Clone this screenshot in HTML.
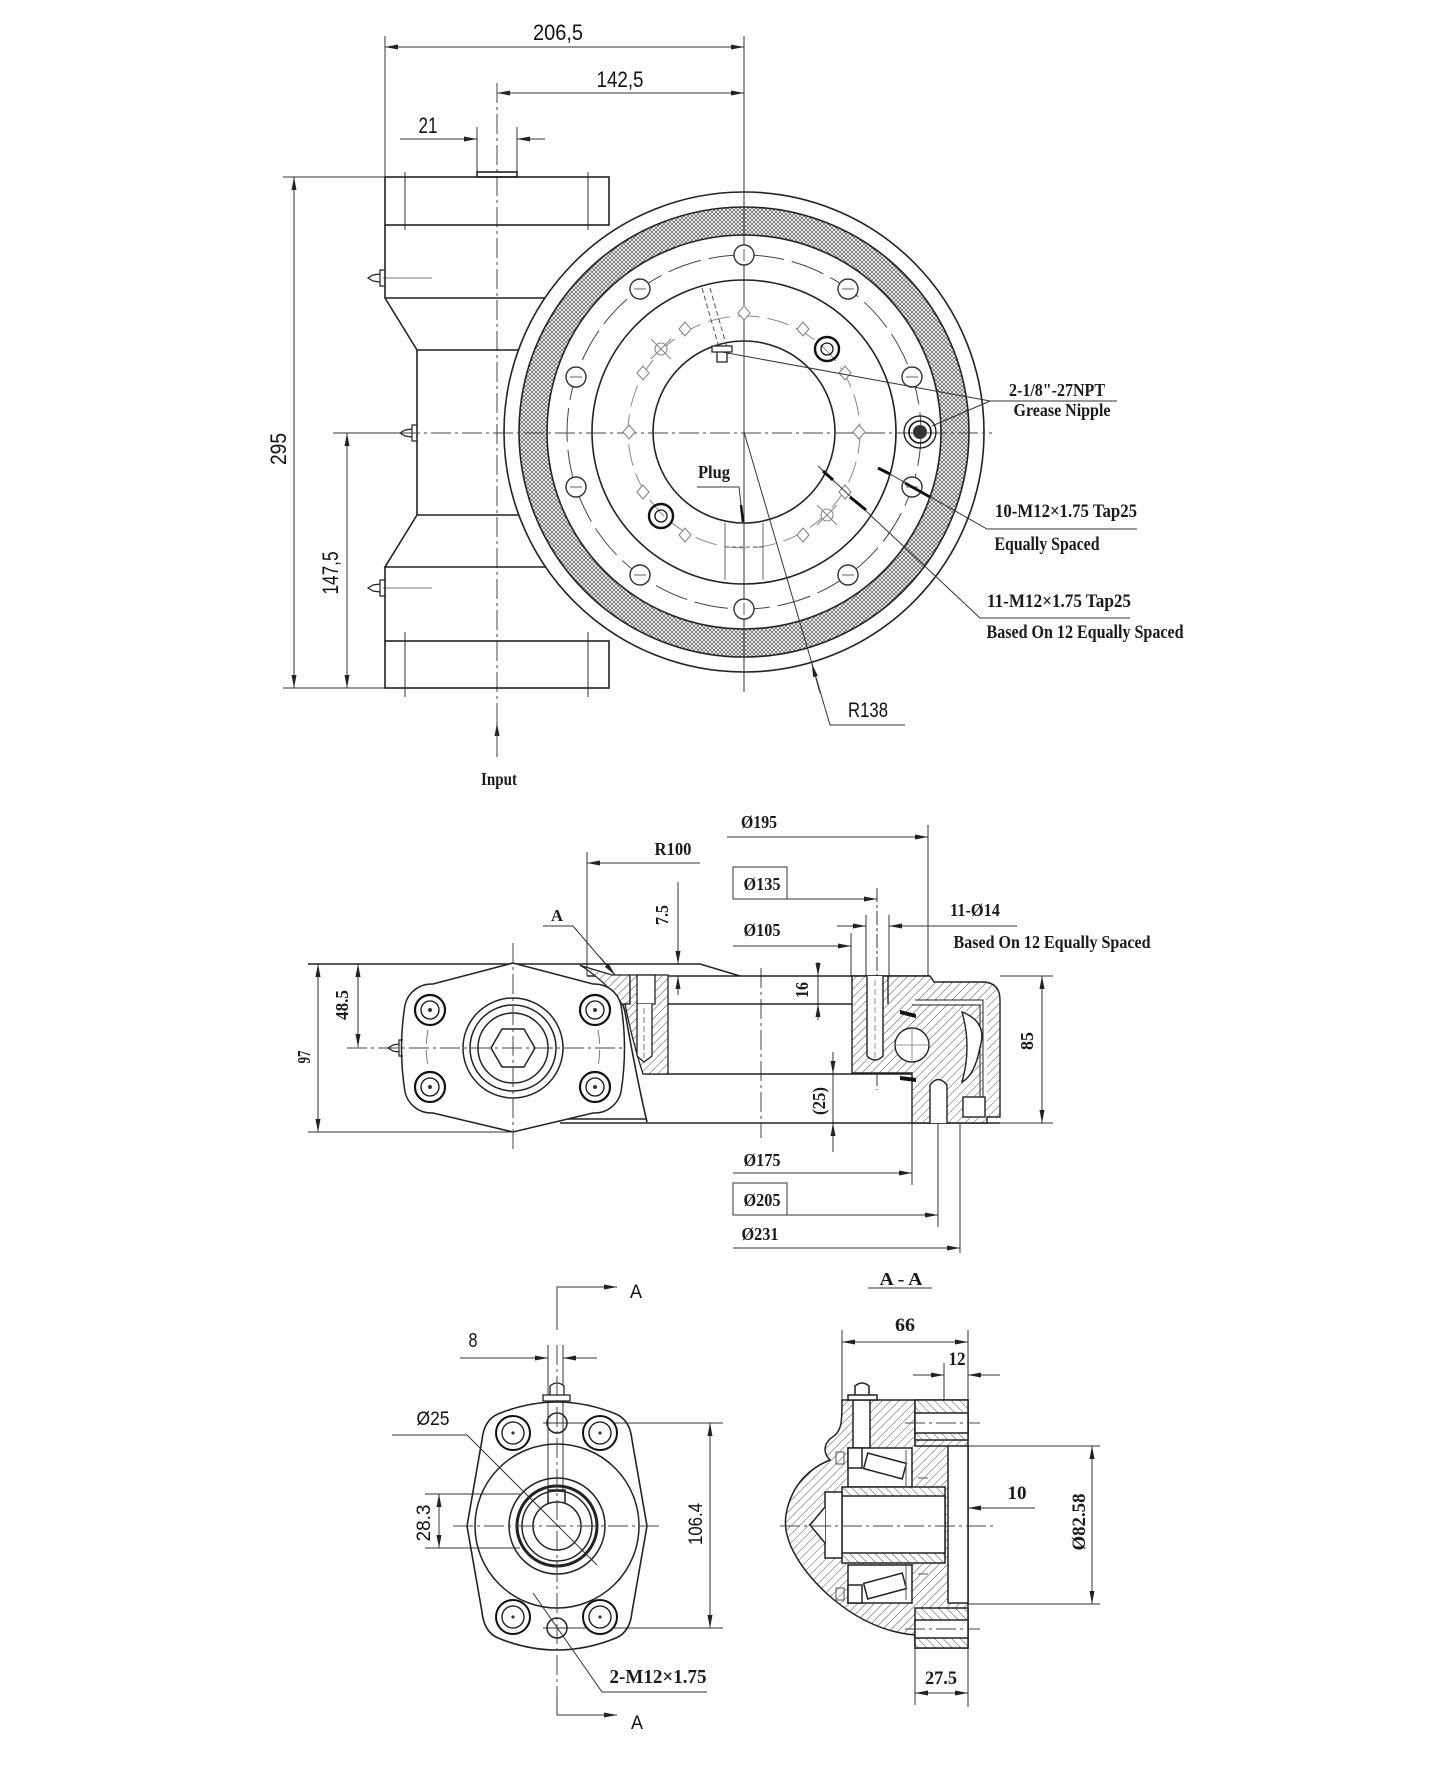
<!DOCTYPE html>
<html><head><meta charset="utf-8">
<style>
html,body{margin:0;padding:0;background:#fff;}
svg{display:block;}
.s{font-family:"Liberation Sans",sans-serif;fill:#111;stroke:none;}
.r{font-family:"Liberation Serif",serif;font-weight:bold;fill:#1a1a1a;stroke:none;}
</style></head><body>
<svg width="1448" height="1772" viewBox="0 0 1448 1772" xmlns="http://www.w3.org/2000/svg">
<defs>
<marker id="a" viewBox="0 0 13 5" refX="13" refY="2.5" markerWidth="13" markerHeight="5" markerUnits="userSpaceOnUse" orient="auto-start-reverse"><path d="M0,0L13,2.5L0,5z" fill="#222"/></marker>
<pattern id="x" width="4" height="4" patternUnits="userSpaceOnUse"><rect width="4" height="4" fill="#fff"/><path d="M0,0L4,4M4,0L0,4" stroke="#6a6a6a" stroke-width="0.8"/></pattern>
<pattern id="h" width="6" height="6" patternUnits="userSpaceOnUse" patternTransform="rotate(45)"><rect width="6" height="6" fill="#fff"/><line x1="0" y1="0" x2="0" y2="6" stroke="#555" stroke-width="1"/></pattern>
<pattern id="h2" width="6" height="6" patternUnits="userSpaceOnUse" patternTransform="rotate(-45)"><rect width="6" height="6" fill="#fff"/><line x1="0" y1="0" x2="0" y2="6" stroke="#555" stroke-width="1"/></pattern>
</defs>

<!-- ================= TOP VIEW ================= -->
<g fill="none" stroke="#333" stroke-width="1">
<line x1="385" y1="36" x2="385" y2="177"/>
<line x1="744" y1="36" x2="744" y2="692"/>
<line x1="385" y1="47" x2="744" y2="47" marker-start="url(#a)" marker-end="url(#a)"/>
<line x1="497" y1="93" x2="744" y2="93" marker-start="url(#a)" marker-end="url(#a)"/>
<line x1="477" y1="127" x2="477" y2="172"/>
<line x1="517" y1="127" x2="517" y2="172"/>
<line x1="400" y1="139" x2="477" y2="139" marker-end="url(#a)"/>
<line x1="545" y1="139" x2="517" y2="139" marker-end="url(#a)"/>
<line x1="283" y1="177" x2="385" y2="177"/>
<line x1="283" y1="688" x2="385" y2="688"/>
<line x1="294" y1="177" x2="294" y2="688" marker-start="url(#a)" marker-end="url(#a)"/>
<line x1="347" y1="433" x2="347" y2="688" marker-start="url(#a)" marker-end="url(#a)"/>
<line x1="333" y1="433" x2="400" y2="433"/>
<line x1="497" y1="757" x2="497" y2="723" marker-end="url(#a)"/>
<line x1="405" y1="172" x2="405" y2="230"/>
<line x1="588" y1="172" x2="588" y2="230"/>
<line x1="405" y1="632" x2="405" y2="697"/>
<line x1="588" y1="632" x2="588" y2="697"/>
<line x1="383" y1="278" x2="432" y2="278" stroke="#777"/>
<line x1="383" y1="588" x2="432" y2="588" stroke="#777"/>
</g>
<g fill="none" stroke="#444" stroke-width="1" stroke-dasharray="20 4 3 4">
<line x1="497" y1="83" x2="497" y2="757"/>
<line x1="400" y1="433" x2="992" y2="433"/>
</g>
<g fill="none" stroke="#222" stroke-width="1.6">
<rect x="477" y="172" width="40" height="5"/>
<rect x="385" y="177" width="224" height="48"/>
<path d="M385,225 V298 H548 M385,298 L417,350 H520 M417,350 V515 H520 M417,515 L385,567 H548 M385,567 V641"/>
<rect x="385" y="641" width="224" height="47"/>
<path d="M385,270 h-5 v16 h5 M380,274 l-7,1 l-5,3 l5,3 l7,1" stroke-width="1.2"/>
<path d="M417,425 h-5 v16 h5 M412,429 l-7,1 l-5,3 l5,3 l7,1" stroke-width="1.2"/>
<path d="M385,580 h-5 v16 h5 M380,584 l-7,1 l-5,3 l5,3 l7,1" stroke-width="1.2"/>
</g>

<!-- ring -->
<g stroke="#222" stroke-width="1.6">
<circle cx="744" cy="432" r="240" fill="#fff"/>
<circle cx="744" cy="432" r="225" fill="url(#x)"/>
<circle cx="744" cy="432" r="197" fill="#fff"/>
<circle cx="744" cy="432" r="152" fill="none"/>
<circle cx="744" cy="432" r="91" fill="none"/>
</g>
<line x1="744" y1="36" x2="744" y2="692" stroke="#333" stroke-width="1"/>
<line x1="400" y1="433" x2="992" y2="433" stroke="#444" stroke-width="1" stroke-dasharray="20 4 3 4"/>
<circle cx="744" cy="432" r="177" fill="none" stroke="#444" stroke-width="1" stroke-dasharray="34 8"/>
<circle cx="744" cy="432" r="116" fill="none" stroke="#888" stroke-width="1" stroke-dasharray="22 8"/>
<g fill="#fff" stroke="#333" stroke-width="1.4">
<circle cx="744" cy="255" r="10"/><circle cx="848" cy="289" r="10"/><circle cx="912" cy="377" r="10"/><circle cx="912" cy="487" r="10"/><circle cx="848" cy="575" r="10"/><circle cx="744" cy="609" r="10"/><circle cx="640" cy="575" r="10"/><circle cx="576" cy="487" r="10"/><circle cx="576" cy="377" r="10"/><circle cx="640" cy="289" r="10"/>
</g>
<g stroke="#666" stroke-width="1">
<line x1="744" y1="249" x2="744" y2="261"/><line x1="842" y1="289" x2="854" y2="289"/><line x1="906" y1="377" x2="918" y2="377"/><line x1="906" y1="487" x2="918" y2="487"/><line x1="842" y1="575" x2="854" y2="575"/><line x1="744" y1="603" x2="744" y2="615"/><line x1="634" y1="575" x2="646" y2="575"/><line x1="570" y1="487" x2="582" y2="487"/><line x1="570" y1="377" x2="582" y2="377"/><line x1="634" y1="289" x2="646" y2="289"/>
</g>
<g fill="#fff" stroke="#888" stroke-width="1.1">
<path d="M744,306 l6,7 l-6,7 l-6,-7z"/><path d="M803,322 l6,7 l-6,7 l-6,-7z"/><path d="M845,366 l6,7 l-6,7 l-6,-7z"/><path d="M859,425 l6,7 l-6,7 l-6,-7z"/><path d="M845,485 l6,7 l-6,7 l-6,-7z"/><path d="M803,528 l6,7 l-6,7 l-6,-7z"/><path d="M685,528 l6,7 l-6,7 l-6,-7z"/><path d="M643,485 l6,7 l-6,7 l-6,-7z"/><path d="M629,425 l6,7 l-6,7 l-6,-7z"/><path d="M643,366 l6,7 l-6,7 l-6,-7z"/><path d="M685,322 l6,7 l-6,7 l-6,-7z"/>
<circle cx="661" cy="349" r="6"/><path d="M651,339 l20,20 M671,339 l-20,20"/>
<circle cx="827" cy="515" r="6"/><path d="M817,505 l20,20 M837,505 l-20,20"/>
</g>
<g fill="none" stroke="#111">
<circle cx="827" cy="349" r="12" stroke-width="2.4"/><circle cx="827" cy="349" r="6" stroke-width="1.3"/>
<circle cx="661" cy="516" r="12" stroke-width="2.4"/><circle cx="661" cy="516" r="6" stroke-width="1.3"/>
<circle cx="920" cy="432" r="16" stroke-width="1.3"/><circle cx="920" cy="432" r="11" stroke-width="1.6"/>
</g>
<circle cx="920" cy="432" r="7" fill="#333"/>
<g fill="none" stroke="#555" stroke-width="1" stroke-dasharray="5 3">
<line x1="702" y1="288" x2="722" y2="358"/><line x1="710" y1="288" x2="730" y2="358"/>
</g>
<path d="M712,346 h20 v6 h-20z M717,352 h10 v10 h-10z" fill="#fff" stroke="#222" stroke-width="1.3"/>
<g fill="none" stroke="#666" stroke-width="1">
<line x1="725" y1="523" x2="725" y2="580"/><line x1="763" y1="523" x2="763" y2="580"/>
<line x1="725" y1="547" x2="763" y2="547" stroke-dasharray="4 3"/>
</g>
<g fill="none" stroke="#333" stroke-width="1">
<path d="M722,352 L990,401 H1117"/>
<path d="M990,401 L932,426"/>
<path d="M1137,529 H987 L890,474"/>
<line x1="905" y1="483" x2="930" y2="497" stroke="#111" stroke-width="3"/>
<line x1="890" y1="474" x2="878" y2="468" stroke="#111" stroke-width="3"/>
<path d="M1130,618 H980 L818,466"/>
<line x1="850" y1="497" x2="866" y2="510" stroke="#111" stroke-width="3"/>
<line x1="823" y1="471" x2="833" y2="480" stroke="#111" stroke-width="3"/>
<path d="M744,432 L830,725 H905"/>
<line x1="820" y1="693" x2="812" y2="664" marker-end="url(#a)"/>
<path d="M697,487 H739 L743,522"/>
<line x1="741" y1="505" x2="743" y2="522" stroke="#111" stroke-width="2.5"/>
</g>
<text class="s" x="558" y="40" font-size="22" text-anchor="middle" textLength="50" lengthAdjust="spacingAndGlyphs">206,5</text>
<text class="s" x="620" y="87" font-size="22" text-anchor="middle" textLength="47" lengthAdjust="spacingAndGlyphs">142,5</text>
<text class="s" x="428" y="133" font-size="22" text-anchor="middle" textLength="19" lengthAdjust="spacingAndGlyphs">21</text>
<text class="s" font-size="22" text-anchor="middle" textLength="32" lengthAdjust="spacingAndGlyphs" transform="translate(286,449) rotate(-90)">295</text>
<text class="s" font-size="22" text-anchor="middle" textLength="43" lengthAdjust="spacingAndGlyphs" transform="translate(338,573) rotate(-90)">147,5</text>
<text class="s" x="868" y="717" font-size="21" text-anchor="middle" textLength="40" lengthAdjust="spacingAndGlyphs">R138</text>
<text class="r" x="1057" y="396" font-size="18" text-anchor="middle" textLength="96" lengthAdjust="spacingAndGlyphs">2-1/8"-27NPT</text>
<text class="r" x="1062" y="416" font-size="18" text-anchor="middle" textLength="97" lengthAdjust="spacingAndGlyphs">Grease Nipple</text>
<text class="r" x="1066" y="517" font-size="19" text-anchor="middle" textLength="142" lengthAdjust="spacingAndGlyphs">10-M12×1.75 Tap25</text>
<text class="r" x="1047" y="550" font-size="19" text-anchor="middle" textLength="105" lengthAdjust="spacingAndGlyphs">Equally Spaced</text>
<text class="r" x="1059" y="607" font-size="19" text-anchor="middle" textLength="144" lengthAdjust="spacingAndGlyphs">11-M12×1.75 Tap25</text>
<text class="r" x="1085" y="638" font-size="19" text-anchor="middle" textLength="197" lengthAdjust="spacingAndGlyphs">Based On 12 Equally Spaced</text>
<text class="r" x="714" y="478" font-size="18" text-anchor="middle" textLength="32" lengthAdjust="spacingAndGlyphs">Plug</text>
<text class="r" x="499" y="785" font-size="18" text-anchor="middle" textLength="36" lengthAdjust="spacingAndGlyphs">Input</text>

<!-- ================= MIDDLE VIEW ================= -->
<g fill="none" stroke="#333" stroke-width="1">
<line x1="318" y1="964" x2="318" y2="1132" marker-start="url(#a)" marker-end="url(#a)"/>
<line x1="358" y1="964" x2="358" y2="1047" marker-start="url(#a)" marker-end="url(#a)"/>
<line x1="308" y1="1132" x2="513" y2="1132"/>
<line x1="587" y1="852" x2="587" y2="976"/>
<line x1="700" y1="863" x2="587" y2="863" marker-end="url(#a)"/>
<line x1="678" y1="882" x2="678" y2="964" marker-end="url(#a)"/>
<line x1="678" y1="995" x2="678" y2="976" marker-end="url(#a)"/>
<line x1="727" y1="837" x2="928" y2="837" marker-end="url(#a)"/>
<line x1="928" y1="825" x2="928" y2="976"/>
<rect x="733" y="867" width="54" height="32"/>
<line x1="733" y1="899" x2="877" y2="899" marker-end="url(#a)"/>
<line x1="877" y1="888" x2="877" y2="1090" stroke-dasharray="14 3 3 3"/>
<line x1="733" y1="946" x2="851" y2="946" marker-end="url(#a)"/>
<line x1="851" y1="933" x2="851" y2="977"/>
<line x1="866" y1="915" x2="866" y2="977"/>
<line x1="889" y1="915" x2="889" y2="977"/>
<line x1="837" y1="926" x2="866" y2="926" marker-end="url(#a)"/>
<line x1="1017" y1="926" x2="889" y2="926" marker-end="url(#a)"/>
<line x1="818" y1="962" x2="818" y2="976" marker-end="url(#a)"/>
<line x1="818" y1="1020" x2="818" y2="1004" marker-end="url(#a)"/>
<line x1="818" y1="976" x2="818" y2="1004"/>
<line x1="833" y1="1052" x2="833" y2="1074" marker-end="url(#a)"/>
<line x1="833" y1="1152" x2="833" y2="1123" marker-end="url(#a)"/>
<line x1="833" y1="1074" x2="833" y2="1123"/>
<line x1="1000" y1="976" x2="1053" y2="976"/>
<line x1="1000" y1="1123" x2="1053" y2="1123"/>
<line x1="1042" y1="976" x2="1042" y2="1123" marker-start="url(#a)" marker-end="url(#a)"/>
<line x1="733" y1="1173" x2="912" y2="1173" marker-end="url(#a)"/>
<line x1="912" y1="1077" x2="912" y2="1185"/>
<rect x="733" y="1183" width="54" height="32"/>
<line x1="733" y1="1215" x2="938" y2="1215" marker-end="url(#a)"/>
<line x1="938" y1="1073" x2="938" y2="1227"/>
<line x1="733" y1="1248" x2="960" y2="1248" marker-end="url(#a)"/>
<line x1="960" y1="1120" x2="960" y2="1253"/>
<path d="M543,926 H573 L615,975" />
<line x1="600" y1="957" x2="615" y2="975" marker-end="url(#a)"/>
</g>
<g fill="none" stroke="#444" stroke-width="1" stroke-dasharray="20 4 3 4">
<line x1="761" y1="968" x2="761" y2="1138"/>
</g>
<g fill="none" stroke="#222" stroke-width="1.6">
<path d="M308,964 H700 L740,976"/>
<path d="M587,976 H930"/>
<path d="M622,1004 H888"/>
<path d="M643,1074 H912"/>
<path d="M560,1123 H1000"/>
<path d="M558,1119 H647"/>
<path d="M580,965 Q620,988 625,1012 Q636,1075 647,1122"/>
</g>
<g stroke="#222" stroke-width="1.3">
<path d="M582,966 L612,975 H630 V1004 H622 Q608,984 582,966 Z" fill="url(#h)"/>
<path d="M630,975 H668 V1074 H643 Q632,1040 625,1004 H630 Z" fill="url(#h)"/>
<rect x="637" y="975" width="18" height="29" fill="#fff"/>
<path d="M637,1004 V1056 L644,1062 L652,1056 V1004" fill="#fff"/>
</g>
<line x1="644" y1="1008" x2="644" y2="1058" stroke="#777" stroke-dasharray="6 3"/>
<g stroke="#222" stroke-width="1.4">
<path d="M852,976 H930 L934,982 H982 Q1000,982 1000,1000 V1117 H987 V1123 H912 V1073 H852 Z" fill="url(#h)"/>
<path d="M867,976 V1056 Q875,1064 883,1056 V976" fill="#fff"/>
<path d="M912,1002 H985 V1097" fill="none" stroke="#fff" stroke-width="4"/>
<path d="M915,1000 H983 V1097 M912,1005 H980 V1097" fill="none" stroke-width="1"/>
<path d="M962,1012 Q988,1022 980,1047 Q975,1075 962,1082 Q972,1047 962,1012 Z" fill="#fff"/>
<circle cx="912" cy="1045" r="17" fill="#fff"/>
<path d="M930,1123 V1085 Q938,1074 947,1085 V1123" fill="#fff"/>
<rect x="963" y="1097" width="22" height="20" fill="#fff"/>
<line x1="888" y1="976" x2="888" y2="1004"/>
</g>
<g stroke="#777" stroke-width="0.8"><line x1="895" y1="1045" x2="929" y2="1045"/><line x1="912" y1="1028" x2="912" y2="1062"/><line x1="875" y1="980" x2="875" y2="1058" stroke-dasharray="6 3"/></g>
<path d="M900,1010 L916,1014 L916,1018 L900,1014Z M900,1076 L916,1078 L916,1082 L900,1080Z" fill="#111"/>
<!-- motor flange -->
<path d="M513,963 L433,984 A27,27 0 0 0 405,1005 Q398,1048 405,1092 A27,27 0 0 0 433,1113 L513,1132 L593,1113 A27,27 0 0 0 621,1092 Q628,1048 621,1005 A27,27 0 0 0 593,984 Z" fill="#fff" stroke="#222" stroke-width="1.5"/>
<g fill="none" stroke="#777" stroke-width="1" stroke-dasharray="14 6">
<path d="M428,1030 A93,93 0 0 0 428,1066"/>
<path d="M598,1030 A93,93 0 0 1 598,1066"/>
</g>
<g fill="none" stroke="#222" stroke-width="1.5">
<circle cx="513" cy="1048" r="50" fill="#fff"/>
<circle cx="513" cy="1048" r="43"/>
<circle cx="513" cy="1048" r="35"/>
<path d="M535,1048 L524,1067 L502,1067 L491,1048 L502,1029 L524,1029 Z"/>
</g>
<g fill="#fff" stroke="#111">
<circle cx="430" cy="1010" r="15" stroke-width="2.2"/><circle cx="430" cy="1010" r="9" stroke-width="1.3"/>
<circle cx="595" cy="1010" r="15" stroke-width="2.2"/><circle cx="595" cy="1010" r="9" stroke-width="1.3"/>
<circle cx="430" cy="1087" r="15" stroke-width="2.2"/><circle cx="430" cy="1087" r="9" stroke-width="1.3"/>
<circle cx="595" cy="1087" r="15" stroke-width="2.2"/><circle cx="595" cy="1087" r="9" stroke-width="1.3"/>
</g>
<g fill="#333"><circle cx="430" cy="1010" r="2"/><circle cx="595" cy="1010" r="2"/><circle cx="430" cy="1087" r="2"/><circle cx="595" cy="1087" r="2"/></g>
<line x1="347" y1="1048" x2="623" y2="1048" stroke="#444" stroke-width="1" stroke-dasharray="20 4 3 4"/>
<line x1="513" y1="943" x2="513" y2="1152" stroke="#444" stroke-width="1" stroke-dasharray="20 4 3 4"/>
<path d="M403,1040 h-4 v16 h4 M399,1044 l-6,1 l-5,3 l5,3 l6,1" fill="none" stroke="#222" stroke-width="1.2"/>
<text class="r" x="557" y="921" font-size="17" text-anchor="middle" textLength="12" lengthAdjust="spacingAndGlyphs">A</text>
<text class="r" x="673" y="855" font-size="18" text-anchor="middle" textLength="37" lengthAdjust="spacingAndGlyphs">R100</text>
<text class="r" font-size="18" text-anchor="middle" textLength="20" lengthAdjust="spacingAndGlyphs" transform="translate(668,915) rotate(-90)">7.5</text>
<text class="r" x="759" y="828" font-size="18" text-anchor="middle" textLength="36" lengthAdjust="spacingAndGlyphs">Ø195</text>
<text class="r" x="762" y="890" font-size="18" text-anchor="middle" textLength="37" lengthAdjust="spacingAndGlyphs">Ø135</text>
<text class="r" x="762" y="936" font-size="18" text-anchor="middle" textLength="37" lengthAdjust="spacingAndGlyphs">Ø105</text>
<text class="r" x="975" y="916" font-size="18" text-anchor="middle" textLength="50" lengthAdjust="spacingAndGlyphs">11-Ø14</text>
<text class="r" x="1052" y="948" font-size="18" text-anchor="middle" textLength="197" lengthAdjust="spacingAndGlyphs">Based On 12 Equally Spaced</text>
<text class="r" font-size="18" text-anchor="middle" textLength="16" lengthAdjust="spacingAndGlyphs" transform="translate(808,990) rotate(-90)">16</text>
<text class="r" font-size="18" text-anchor="middle" textLength="28" lengthAdjust="spacingAndGlyphs" transform="translate(825,1101) rotate(-90)">(25)</text>
<text class="r" font-size="18" text-anchor="middle" textLength="18" lengthAdjust="spacingAndGlyphs" transform="translate(1033,1041) rotate(-90)">85</text>
<text class="r" font-size="18" text-anchor="middle" textLength="13" lengthAdjust="spacingAndGlyphs" transform="translate(310,1057) rotate(-90)">97</text>
<text class="r" font-size="18" text-anchor="middle" textLength="30" lengthAdjust="spacingAndGlyphs" transform="translate(348,1005) rotate(-90)">48.5</text>
<text class="r" x="762" y="1166" font-size="18" text-anchor="middle" textLength="37" lengthAdjust="spacingAndGlyphs">Ø175</text>
<text class="r" x="762" y="1206" font-size="18" text-anchor="middle" textLength="37" lengthAdjust="spacingAndGlyphs">Ø205</text>
<text class="r" x="760" y="1240" font-size="18" text-anchor="middle" textLength="37" lengthAdjust="spacingAndGlyphs">Ø231</text>

<!-- ================= BOTTOM LEFT VIEW ================= -->
<g fill="none" stroke="#333" stroke-width="1">
<path d="M557,1330 V1287 H617" marker-end="url(#a)"/>
<path d="M557,1697 V1715 H617" marker-end="url(#a)"/>
<line x1="548" y1="1345" x2="548" y2="1490"/>
<line x1="563" y1="1345" x2="563" y2="1490"/>
<line x1="460" y1="1358" x2="548" y2="1358" marker-end="url(#a)"/>
<line x1="597" y1="1358" x2="563" y2="1358" marker-end="url(#a)"/>
<line x1="425" y1="1494" x2="520" y2="1494"/>
<line x1="425" y1="1548" x2="520" y2="1548"/>
<line x1="439" y1="1494" x2="439" y2="1548" marker-start="url(#a)" marker-end="url(#a)"/>
<line x1="543" y1="1423" x2="723" y2="1423"/>
<line x1="543" y1="1628" x2="723" y2="1628"/>
<line x1="710" y1="1423" x2="710" y2="1628" marker-start="url(#a)" marker-end="url(#a)"/>
</g>
<path d="M498,1414 Q557,1390 616,1414 Q630,1420 632,1440 L647,1526 L632,1612 Q630,1632 616,1638 Q557,1662 498,1638 Q484,1632 482,1612 L467,1526 L482,1440 Q484,1420 498,1414 Z" fill="none" stroke="#222" stroke-width="1.6"/>
<g fill="none" stroke="#222" stroke-width="1.5">
<circle cx="557" cy="1526" r="82"/>
<circle cx="557" cy="1526" r="48"/>
<circle cx="557" cy="1526" r="40" stroke-width="3"/>
<circle cx="557" cy="1526" r="35"/>
<path d="M548,1503 V1490 H565 V1503"/>
<circle cx="557" cy="1526" r="24"/>
<circle cx="557" cy="1423" r="10"/>
<circle cx="557" cy="1628" r="10"/>
</g>
<g fill="#fff" stroke="#111">
<circle cx="513" cy="1433" r="17" stroke-width="2"/><circle cx="513" cy="1433" r="11" stroke-width="1.3"/>
<circle cx="600" cy="1433" r="17" stroke-width="2"/><circle cx="600" cy="1433" r="11" stroke-width="1.3"/>
<circle cx="513" cy="1617" r="17" stroke-width="2"/><circle cx="513" cy="1617" r="11" stroke-width="1.3"/>
<circle cx="600" cy="1617" r="17" stroke-width="2"/><circle cx="600" cy="1617" r="11" stroke-width="1.3"/>
</g>
<g fill="#333"><circle cx="513" cy="1433" r="1.6"/><circle cx="600" cy="1433" r="1.6"/><circle cx="513" cy="1617" r="1.6"/><circle cx="600" cy="1617" r="1.6"/></g>
<path d="M550,1395 V1386 Q557,1380 564,1386 V1395 M543,1395 h27 v6 h-27z" fill="#fff" stroke="#222" stroke-width="1.3"/>
<g fill="none" stroke="#444" stroke-width="1" stroke-dasharray="20 4 3 4">
<line x1="453" y1="1526" x2="660" y2="1526"/>
<line x1="557" y1="1345" x2="557" y2="1697"/>
</g>
<g fill="none" stroke="#333" stroke-width="1">
<path d="M392,1435 H467 L597,1565"/>
<path d="M707,1692 H602 L533,1593"/>
</g>
<text class="s" x="636" y="1298" font-size="19" text-anchor="middle" textLength="12" lengthAdjust="spacingAndGlyphs">A</text>
<text class="s" x="473" y="1347" font-size="20" text-anchor="middle" textLength="9" lengthAdjust="spacingAndGlyphs">8</text>
<text class="s" x="433" y="1425" font-size="19" text-anchor="middle" textLength="33" lengthAdjust="spacingAndGlyphs">Ø25</text>
<text class="s" font-size="19" text-anchor="middle" textLength="37" lengthAdjust="spacingAndGlyphs" transform="translate(430,1523) rotate(-90)">28.3</text>
<text class="s" font-size="19" text-anchor="middle" textLength="42" lengthAdjust="spacingAndGlyphs" transform="translate(702,1524) rotate(-90)">106.4</text>
<text class="r" x="658" y="1683" font-size="20" text-anchor="middle" textLength="97" lengthAdjust="spacingAndGlyphs">2-M12×1.75</text>
<text class="s" x="637" y="1729" font-size="19" text-anchor="middle" textLength="12" lengthAdjust="spacingAndGlyphs">A</text>

<!-- ================= SECTION A-A ================= -->
<g fill="none" stroke="#333" stroke-width="1">
<line x1="868" y1="1288" x2="932" y2="1288"/>
<line x1="842" y1="1330" x2="842" y2="1400"/>
<line x1="968" y1="1330" x2="968" y2="1707"/>
<line x1="842" y1="1342" x2="968" y2="1342" marker-start="url(#a)" marker-end="url(#a)"/>
<line x1="944" y1="1363" x2="944" y2="1446"/>
<line x1="913" y1="1375" x2="944" y2="1375" marker-end="url(#a)"/>
<line x1="1000" y1="1375" x2="968" y2="1375" marker-end="url(#a)"/>
<line x1="950" y1="1446" x2="1100" y2="1446"/>
<line x1="950" y1="1604" x2="1100" y2="1604"/>
<line x1="1092" y1="1446" x2="1092" y2="1604" marker-start="url(#a)" marker-end="url(#a)"/>
<line x1="933" y1="1508" x2="945" y2="1508" marker-end="url(#a)"/>
<line x1="1035" y1="1508" x2="968" y2="1508" marker-end="url(#a)"/>
<line x1="915" y1="1648" x2="915" y2="1705"/>
<line x1="915" y1="1693" x2="968" y2="1693" marker-start="url(#a)" marker-end="url(#a)"/>
</g>
<g stroke="#222" stroke-width="1.5">
<path d="M842,1400 H968 V1648 H915 V1635 C880,1632 850,1615 825,1592 C800,1568 782,1540 786,1515 C790,1490 805,1470 830,1460 C822,1452 824,1442 834,1436 C842,1430 842,1420 842,1400 Z" fill="url(#h)"/>
<path d="M915,1400 V1446 H948" fill="none"/>
<rect x="915" y="1400" width="53" height="40" fill="url(#h2)"/>
<rect x="915" y="1608" width="53" height="40" fill="url(#h2)"/>
<rect x="915" y="1413" width="53" height="20" fill="#fff"/>
<rect x="915" y="1620" width="53" height="18" fill="#fff"/>
<rect x="948" y="1446" width="20" height="157" fill="#fff"/>
<rect x="853" y="1400" width="17" height="48" fill="#fff"/>
<rect x="848" y="1448" width="64" height="39" fill="#fff"/>
<rect x="848" y="1565" width="64" height="38" fill="#fff"/>
<rect x="848" y="1448" width="14" height="20" fill="#fff"/>
<rect x="848" y="1585" width="14" height="18" fill="#fff"/>
<g transform="rotate(15 885 1466)"><rect x="865" y="1458" width="40" height="16" fill="#fff"/></g>
<g transform="rotate(-15 885 1586)"><rect x="865" y="1578" width="40" height="16" fill="#fff"/></g>
<rect x="842" y="1487" width="103" height="76" fill="url(#h2)"/>
<rect x="842" y="1496" width="103" height="57" fill="#fff"/>
<rect x="825" y="1492" width="17" height="66" fill="#fff"/>
<path d="M825,1507 L810,1525 L825,1543" fill="#fff"/>
<path d="M855,1395 V1386 Q862,1380 869,1386 V1395 M848,1395 h29 v5 h-29z" fill="#fff"/>
</g>
<g stroke="#555" stroke-width="1" fill="none">
<line x1="906" y1="1450" x2="906" y2="1487"/>
<line x1="906" y1="1565" x2="906" y2="1600"/>
<rect x="836" y="1452" width="8" height="12"/>
<rect x="836" y="1588" width="8" height="12"/>
<path d="M918,1478 h10 M918,1574 h10"/>
</g>
<g fill="none" stroke="#444" stroke-width="1" stroke-dasharray="20 4 3 4">
<line x1="780" y1="1526" x2="997" y2="1526"/>
<line x1="905" y1="1423" x2="980" y2="1423"/>
<line x1="905" y1="1629" x2="980" y2="1629"/>
</g>
<text class="r" x="901" y="1285" font-size="18" text-anchor="middle" textLength="43" lengthAdjust="spacingAndGlyphs">A - A</text>
<text class="r" x="905" y="1331" font-size="19" text-anchor="middle" textLength="20" lengthAdjust="spacingAndGlyphs">66</text>
<text class="r" x="957" y="1365" font-size="19" text-anchor="middle" textLength="17" lengthAdjust="spacingAndGlyphs">12</text>
<text class="r" x="1017" y="1499" font-size="19" text-anchor="middle" textLength="19" lengthAdjust="spacingAndGlyphs">10</text>
<text class="r" font-size="19" text-anchor="middle" textLength="57" lengthAdjust="spacingAndGlyphs" transform="translate(1085,1522) rotate(-90)">Ø82.58</text>
<text class="r" x="941" y="1684" font-size="19" text-anchor="middle" textLength="32" lengthAdjust="spacingAndGlyphs">27.5</text>
</svg>
</body></html>
